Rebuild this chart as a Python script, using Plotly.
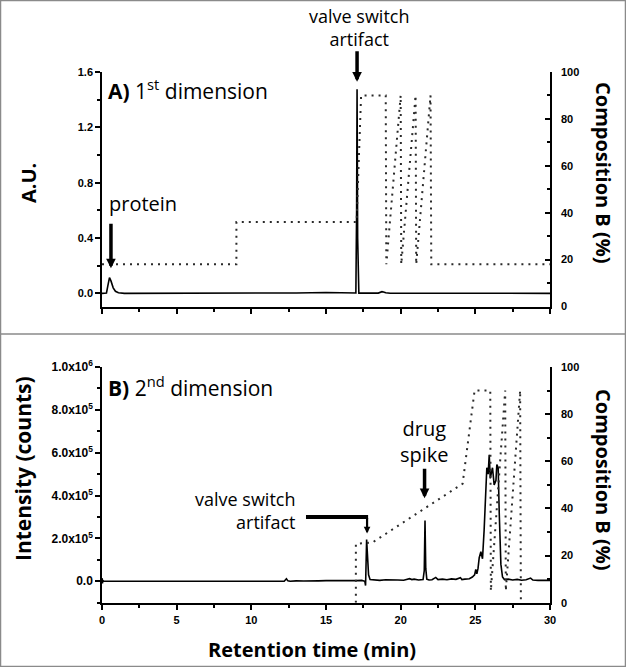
import plotly.graph_objects as go

# ---------------- data ----------------
# Panel A (1st dimension): UV trace (A.U.) vs retention time (min)
t_top = [0.0, 0.3, 0.4, 0.5, 0.6, 0.75, 0.9, 1.1, 1.5, 5.0, 10.0, 13.0, 15.0, 16.5,
         17.0, 17.05, 17.08, 17.12, 17.2, 18.5, 18.75, 18.85, 19.0, 19.3, 25.0, 30.0]
au_top = [0.0, 0.003, 0.06, 0.114, 0.09, 0.04, 0.015, 0.005, 0.0, 0.0, 0.0, 0.003, 0.006, 0.005,
          0.003, 0.6, 1.476, 0.4, 0.002, 0.002, 0.012, 0.01, 0.004, 0.001, 0.0, 0.0]

# Panel A gradient (Composition B, %)
t_comp_top = [0, 9, 9, 17.05, 17.35, 19.0, 19.04, 20.0, 20.04, 21.0, 21.04, 22.0, 22.05, 30]
comp_top = [18, 18, 36, 36, 90, 90, 18, 90, 18, 90, 18, 90, 18, 18]

# Panel B (2nd dimension): MS intensity (counts) vs retention time (min)
t_bot = [0.0, 0.03, 0.06, 0.1, 5.0, 10.0, 12.2, 12.35, 12.45, 12.6, 13.0, 13.5, 14.0, 14.5,
         15.0, 15.5, 16.0, 16.5, 17.0, 17.4, 17.6, 17.65, 17.72, 17.78, 17.85, 17.95, 18.2,
         18.6, 19.0, 19.4, 19.8, 20.2, 20.6, 20.75, 20.9, 21.2, 21.5, 21.58, 21.63, 21.68,
         21.75, 21.9, 22.1, 22.35, 22.5, 22.8, 23.1, 23.4, 23.7, 24.0, 24.1, 24.3, 24.6, 24.8,
         24.95, 25.03, 25.1, 25.18, 25.26, 25.37, 25.48, 25.59, 25.7, 25.77, 25.86, 25.93,
         26.0, 26.08, 26.15, 26.26, 26.38, 26.44, 26.53, 26.6, 26.71, 26.82, 26.95, 27.2,
         27.5, 27.8, 28.1, 28.4, 28.7, 28.85, 29.2, 30.0]
i_bot = [15000, -10000, 5000, 0, 0, 0, 0, 12000, 2000, 0, 2000, 1000, 3000, 2000,
         3000, 2000, 4000, 3000, 3000, 4000, 0, -20000, 195000, 120000, 30000, 8000, 6000,
         4000, 7000, 5000, 6000, 5000, 12000, 8000, 10000, 6000, 8000, 50000, 284000, 60000,
         10000, 6000, 7000, 18000, 8000, 10000, 7000, 11000, 9000, 17000, 8000, 10000, 12000, 20000,
         30000, 55000, 35000, 60000, 110000, 138000, 105000, 240000, 425000, 530000, 500000, 590000,
         480000, 500000, 530000, 450000, 470000, 545000, 530000, 320000, 80000, 20000, 8000, 10000,
         6000, 9000, 5000, 7000, 15000, 6000, 4000, 4000]

# Panel B gradient (Composition B, %)
t_comp_bot = [17.0, 17.0, 18.1, 24.15, 24.95, 26.0, 26.04, 27.0, 27.04, 28.0, 28.05]
comp_bot = [0, 25, 25.5, 50.5, 90, 90, 5, 90, 5, 90, 0]

# tick labels
au_ticks = [0.0, 0.4, 0.8, 1.2, 1.6]
au_ticktext = ["0.0", "0.4", "0.8", "1.2", "1.6"]
int_ticks = [0, 200000, 400000, 600000, 800000, 1000000]
int_ticktext = ["0.0", "2.0x10<sup>5</sup>", "4.0x10<sup>5</sup>", "6.0x10<sup>5</sup>",
                "8.0x10<sup>5</sup>", "1.0x10<sup>6</sup>"]

# ---------------- figure ----------------
W, H = 626, 667


def fx(p):
    return p / W


def fy(p):
    return 1 - p / H


TICKFONT = dict(family="Liberation Sans, Arial", size=11, color="black", weight="bold")
TFONT = "Open Sans"
LINE = dict(color="black", width=1.6)
DOT = dict(color="#2a2a2a", width=2, dash="2px,5px")

fig = go.Figure()
fig.add_trace(go.Scatter(x=t_top, y=au_top, xaxis="x", yaxis="y", mode="lines", line=LINE,
                         showlegend=False, hoverinfo="skip"))
fig.add_trace(go.Scatter(x=t_comp_top, y=comp_top, xaxis="x", yaxis="y2", mode="lines", line=DOT,
                         showlegend=False, hoverinfo="skip"))
fig.add_trace(go.Scatter(x=t_bot, y=i_bot, xaxis="x2", yaxis="y3", mode="lines", line=LINE,
                         showlegend=False, hoverinfo="skip"))
fig.add_trace(go.Scatter(x=t_comp_bot, y=comp_bot, xaxis="x2", yaxis="y4", mode="lines", line=DOT,
                         showlegend=False, hoverinfo="skip"))

xdom = [fx(102), fx(550)]
top_dom = [fy(306.5), fy(72)]
bot_dom = [fy(602.7), fy(367)]

common = dict(showgrid=False, zeroline=False, showline=True, linecolor="black", linewidth=1.5,
              tickcolor="black", tickwidth=1.5, tickfont=TICKFONT)
right_common = dict(common, ticklabelstandoff=7)
int_common = dict(common, tickfont=dict(TICKFONT, size=12))

fig.update_layout(
    width=W, height=H,
    margin=dict(l=0, r=0, t=0, b=0, autoexpand=False),
    paper_bgcolor="white", plot_bgcolor="white",
    xaxis=dict(domain=xdom, range=[0, 30], anchor="y", ticks="outside", ticklen=6,
               tickmode="linear", tick0=0, dtick=5, showticklabels=False,
               minor=dict(dtick=2.5, tick0=0, ticks="outside", ticklen=4, tickwidth=1.5, tickcolor="black"),
               **common),
    yaxis=dict(domain=top_dom, range=[-0.095, 1.6], anchor="x", ticks="outside", ticklen=5,
               tickmode="array", tickvals=au_ticks, ticktext=au_ticktext,
               minor=dict(dtick=0.2, tick0=0, ticks="outside", ticklen=3, tickwidth=1.5, tickcolor="black"),
               **common),
    yaxis2=dict(overlaying="y", side="right", anchor="x", range=[0, 100], ticks="inside", ticklen=5,
                tickmode="linear", tick0=0, dtick=20,
                minor=dict(dtick=10, tick0=0, ticks="inside", ticklen=3, tickwidth=1.5, tickcolor="black"),
                **right_common),
    xaxis2=dict(domain=xdom, range=[0, 30], anchor="y3", ticks="outside", ticklen=6,
                tickmode="linear", tick0=0, dtick=5,
                minor=dict(dtick=2.5, tick0=0, ticks="outside", ticklen=4, tickwidth=1.5, tickcolor="black"),
                **common),
    yaxis3=dict(domain=bot_dom, range=[-100000, 1000000], anchor="x2", ticks="outside", ticklen=5,
                tickmode="array", tickvals=int_ticks, ticktext=int_ticktext,
                minor=dict(dtick=100000, tick0=0, ticks="outside", ticklen=3, tickwidth=1.5, tickcolor="black"),
                **int_common),
    yaxis4=dict(overlaying="y3", side="right", anchor="x2", range=[0, 100], ticks="inside", ticklen=5,
                tickmode="linear", tick0=0, dtick=20,
                minor=dict(dtick=10, tick0=0, ticks="inside", ticklen=3, tickwidth=1.5, tickcolor="black"),
                **right_common),
)

ann = []


def text(s, x, y, size=20, xanchor="center", yanchor="middle", angle=0, bold=False, align="center"):
    ann.append(dict(text=("<b>%s</b>" % s) if bold else s, x=fx(x), y=fy(y), xref="paper", yref="paper",
                    xanchor=xanchor, yanchor=yanchor, textangle=angle, showarrow=False, align=align,
                    font=dict(family=TFONT, size=size, color="black")))


# axis titles
text("A.U.", 28, 183, size=20, angle=-90, bold=True)
text("Composition B (%)", 604, 173, size=20, angle=90, bold=True)
text("Intensity (counts)", 23, 469, size=21, angle=-90, bold=True)
text("Composition B (%)", 604, 480, size=20, angle=90, bold=True)
text("Retention time (min)", 312, 649, size=20, bold=True)

# panel labels
text("<b>A)</b> 1<sup>st</sup> dimension", 106, 89, size=21, xanchor="left")
text("<b>B)</b> 2<sup>nd</sup> dimension", 106, 386, size=21, xanchor="left")

# callouts
text("valve switch<br>artifact", 358.5, 28, size=18)
text("protein", 107, 203, size=20, xanchor="left")
text("drug<br>spike", 424, 441, size=20)
text("valve switch<br>artifact", 297, 510.5, size=18, xanchor="right", align="right")


def arrow(x, y, xref, yref, ay, width=3.5, size=0.55):
    ann.append(dict(x=x, y=y, xref=xref, yref=yref, ax=0, ay=ay, text="", showarrow=True,
                    arrowhead=2, arrowwidth=width, arrowsize=size, arrowcolor="black", standoff=0))


arrow(17.08, 1.53, "x", "y", -32)
arrow(0.6, 0.181, "x", "y", -46)
arrow(21.6, 387500, "x2", "y3", -31)
arrow(17.75, 223500, "x2", "y3", -17, width=2.2, size=0.6)

fig.update_layout(annotations=ann)

fig.update_layout(shapes=[
    dict(type="line", xref="x2", yref="y3", x0=13.66, x1=17.82, y0=300000, y1=300000,
         line=dict(color="black", width=4)),
    dict(type="rect", xref="paper", yref="paper", x0=0.0008, x1=0.9992, y0=0.0008, y1=0.9992,
         line=dict(color="#8a8a8a", width=1.5)),
    dict(type="line", xref="paper", yref="paper", x0=0, x1=1, y0=fy(334), y1=fy(334),
         line=dict(color="#8a8a8a", width=1.5)),
])

fig.write_html("out.html", config={"displayModeBar": False},
               post_script="document.body.style.margin='0';")
